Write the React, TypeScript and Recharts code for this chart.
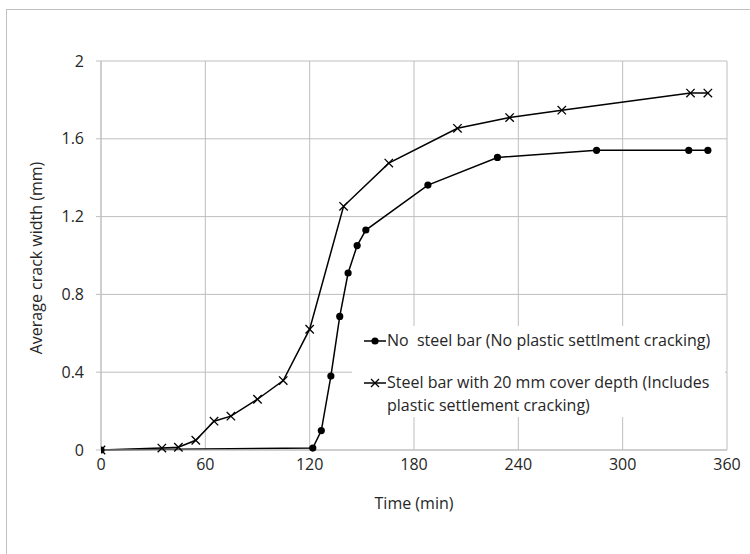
import React from 'react';
import { LineChart, Line, XAxis, YAxis, CartesianGrid, Label } from 'recharts';

// time (min) and average crack width (mm)
const noBarTime = [0, 121.8, 126.7, 132.2, 137.3, 142.1, 147.3, 152.3, 188, 228, 285, 338, 349];
const noBarWidth = [0, 0.01, 0.1, 0.38, 0.687, 0.91, 1.051, 1.131, 1.362, 1.504, 1.541, 1.541, 1.541];

const barTime = [0, 35, 44.5, 54.5, 65, 74.7, 90, 104.8, 120, 139.5, 165.5, 205, 235, 265, 339, 349];
const barWidth = [0, 0.01, 0.014, 0.05, 0.148, 0.174, 0.261, 0.357, 0.621, 1.253, 1.475, 1.654, 1.709, 1.747, 1.835, 1.835];

const xTicks = [0, 60, 120, 180, 240, 300, 360];
const yTicks = [0, 0.4, 0.8, 1.2, 1.6, 2];

const noBarData = noBarTime.map((t, i) => ({ t, w: noBarWidth[i] }));
const barData = barTime.map((t, i) => ({ t, w: barWidth[i] }));

const FONT = '"Open Sans", sans-serif';
const FS = 16;
const GRID = '#bfbfbf';
const TEXT = '#262626';

function CrossDot({ cx, cy }: { cx?: number; cy?: number }) {
  if (cx == null || cy == null) return null;
  const s = 4.2;
  return (
    <g stroke="#000" strokeWidth={1.3}>
      <line x1={cx - s} y1={cy - s} x2={cx + s} y2={cy + s} />
      <line x1={cx - s} y1={cy + s} x2={cx + s} y2={cy - s} />
    </g>
  );
}

function LegendBox() {
  const txt: React.CSSProperties = { position: 'absolute', left: 35, whiteSpace: 'nowrap', lineHeight: '20px' };
  return (
    <div style={{ position: 'absolute', left: 352, top: 326, width: 373, height: 91, background: '#fff', fontFamily: FONT, fontSize: FS, color: TEXT }}>
      <svg width={22} height={12} style={{ position: 'absolute', left: 12, top: 9 }}>
        <line x1={0} y1={6} x2={22} y2={6} stroke="#000" strokeWidth={1.5} />
        <circle cx={11} cy={6} r={3.6} fill="#000" />
      </svg>
      <div style={{ ...txt, top: 4 }}>No&nbsp; steel bar (No plastic settlment cracking)</div>
      <svg width={22} height={12} style={{ position: 'absolute', left: 12, top: 51 }}>
        <line x1={0} y1={6} x2={22} y2={6} stroke="#000" strokeWidth={1.5} />
        <line x1={7} y1={2} x2={15} y2={10} stroke="#000" strokeWidth={1.3} />
        <line x1={7} y1={10} x2={15} y2={2} stroke="#000" strokeWidth={1.3} />
      </svg>
      <div style={{ ...txt, top: 46 }}>Steel bar with 20 mm cover depth (Includes</div>
      <div style={{ ...txt, top: 69 }}>plastic settlement cracking)</div>
    </div>
  );
}

export default function App() {
  return (
    <div style={{ position: 'fixed', left: 0, top: 0, width: 750, height: 554, overflow: 'hidden', background: '#fff' }}>
      <div style={{ position: 'absolute', left: 6, top: 9, width: 800, height: 600, border: '1px solid #c0c0c0' }} />
      <div style={{ position: 'absolute', left: 0, top: 0 }}>
        <LineChart width={750} height={554} margin={{ top: 61, right: 23, left: 0, bottom: 34 }}>
          <CartesianGrid stroke={GRID} strokeWidth={1} />
          <XAxis
            type="number"
            dataKey="t"
            domain={[0, 360]}
            ticks={xTicks}
            height={70}
            tickLine={false}
            tickSize={0}
            tickMargin={9}
            axisLine={{ stroke: GRID }}
            tick={{ fill: TEXT, fontSize: FS, fontFamily: FONT }}
            allowDataOverflow
          >
            <Label value="Time (min)" position="insideBottom" offset={11} fill={TEXT} fontSize={FS} fontFamily={FONT} />
          </XAxis>
          <YAxis
            type="number"
            domain={[0, 2]}
            ticks={yTicks}
            width={101}
            tickSize={5}
            tickMargin={12}
            tickLine={{ stroke: GRID }}
            axisLine={{ stroke: GRID }}
            tick={{ fill: TEXT, fontSize: FS, fontFamily: FONT }}
          >
            <Label
              content={() => (
                <text
                  x={36}
                  y={258}
                  transform="rotate(-90 36 258)"
                  textAnchor="middle"
                  dominantBaseline="central"
                  fill={TEXT}
                  fontSize={FS}
                  fontFamily={FONT}
                >
                  Average crack width (mm)
                </text>
              )}
            />
          </YAxis>
          <Line
            data={noBarData}
            dataKey="w"
            name="No steel bar"
            stroke="#000"
            strokeWidth={1.5}
            dot={{ r: 3.6, fill: '#000', stroke: '#000', strokeWidth: 0 }}
            activeDot={false}
            isAnimationActive={false}
          />
          <Line
            data={barData}
            dataKey="w"
            name="Steel bar"
            stroke="#000"
            strokeWidth={1.5}
            dot={<CrossDot />}
            activeDot={false}
            isAnimationActive={false}
          />
        </LineChart>
      </div>
      <LegendBox />
    </div>
  );
}
